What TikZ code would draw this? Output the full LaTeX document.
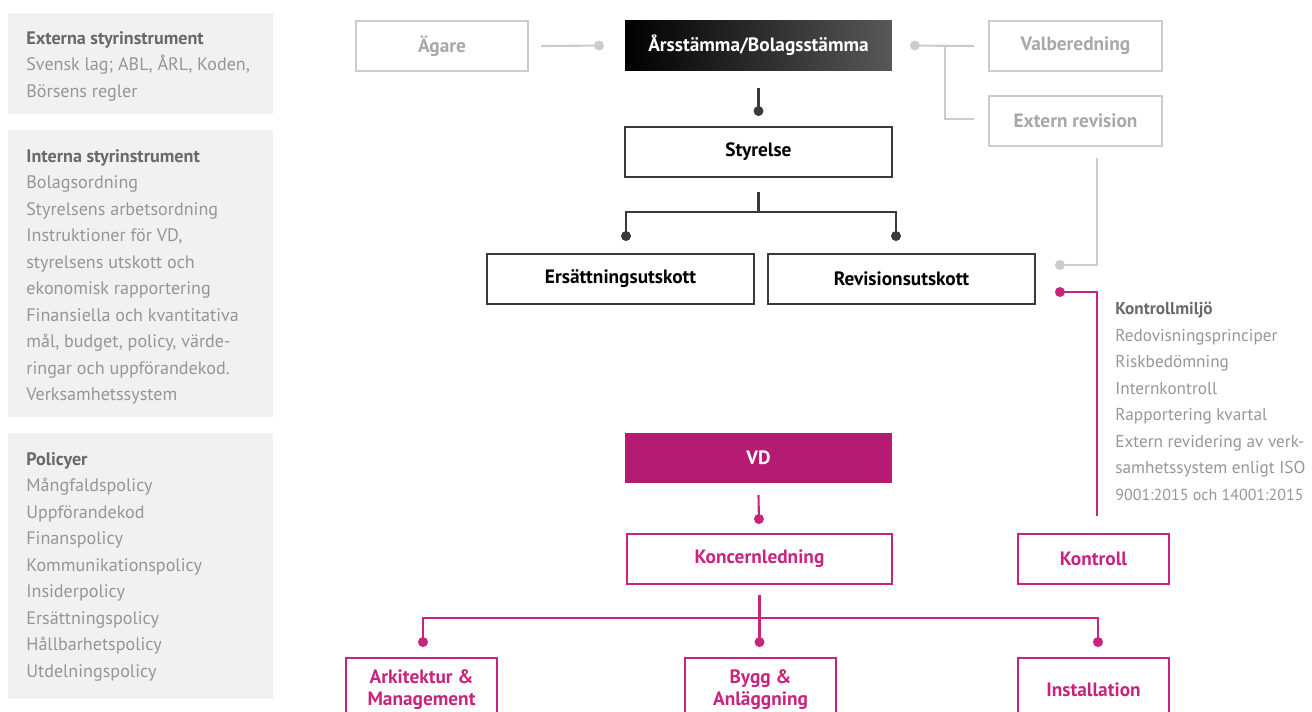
\documentclass[tikz,border=0pt]{standalone}
\usepackage{fontspec}
\setmainfont{PT Sans}
\usetikzlibrary{calc}
\usetikzlibrary{arrows.meta}

\definecolor{panelgray}{RGB}{241,241,241}
\definecolor{lightline}{RGB}{204,204,204}
\definecolor{lighttext}{RGB}{168,168,168}
\definecolor{darkline}{RGB}{58,58,58}
\definecolor{bodytext}{RGB}{150,150,150}
\definecolor{headtext}{RGB}{105,105,105}
\definecolor{magline}{RGB}{200,36,126}
\definecolor{vdfill}{RGB}{182,27,115}
\definecolor{topdark}{RGB}{88,88,88}

\tikzset{
	box/.style={draw, rectangle, line width=1.2pt, minimum height=1cm, inner sep=2pt, align=center, font=\fontsize{11}{12.5}\selectfont\bfseries},
	greybox/.style={box, draw=lightline, text=lighttext, minimum width=3.46cm},
	blackbox/.style={box, draw=darkline, text=black, minimum width=5.34cm},
	magbox/.style={box, draw=magline, text=magline},
	glink/.style={lightline, line width=1.2pt, -{Circle[length=5.6pt]}},
	dlink/.style={darkline, line width=1.2pt, -{Circle[length=5.6pt]}},
	mlink/.style={magline, line width=1.2pt, -{Circle[length=5.6pt]}},
	paneltext/.style={anchor=north west, inner sep=0pt, align=left, text=bodytext, font=\fontsize{10.3}{15.1}\selectfont}
}

\begin{document}
\begin{tikzpicture}[x=0.02cm, y=-0.02cm]
		\clip (0,0) rectangle (1312,711);

		% Left panels
		\fill[panelgray] (8,13) rectangle (273,114);
		\fill[panelgray] (8,130) rectangle (273,417);
		\fill[panelgray] (8,433) rectangle (273,699);

		\node[paneltext] (extern) at (26,31) {\textcolor{headtext}{\bfseries Externa styrinstrument}\\Svensk lag; ABL, ÅRL, Koden,\\Börsens regler};
		\node[paneltext] (intern) at (26,149) {\textcolor{headtext}{\bfseries Interna styrinstrument}\\Bolagsordning\\Styrelsens arbetsordning\\Instruktioner för VD,\\styrelsens utskott och\\ekonomisk rapportering\\Finansiella och kvantitativa\\mål, budget, policy, värde-\\ringar och uppförandekod.\\Verksamhetssystem};
		\node[paneltext] (policy) at (26,452) {\textcolor{headtext}{\bfseries Policyer}\\Mångfaldspolicy\\Uppförandekod\\Finanspolicy\\Kommunikationspolicy\\Insiderpolicy\\Ersättningspolicy\\Hållbarhetspolicy\\Utdelningspolicy};

		% Boxes
		\node[greybox, minimum width=3.44cm] (agare) at (442,46) {Ägare};
		\node[box, draw=none, left color=black, right color=topdark, text=white, minimum width=5.34cm] (arsst) at (758.5,45.5) {Årsstämma/Bolagsstämma};
		\node[greybox] (valb) at (1075.5,46) {Valberedning};
		\node[greybox] (extrev) at (1075.5,121) {Extern revision};
		\node[blackbox] (styr) at (758.5,152) {Styrelse};
		\node[blackbox] (ersut) at (620.5,279) {Ersättningsutskott};
		\node[blackbox] (revut) at (901.5,279) {Revisionsutskott};

		\node[paneltext, font=\fontsize{9.8}{15.1}\selectfont] (kmiljo) at (1115,302) {\textcolor{headtext}{\bfseries Kontrollmiljö}\\Redovisningsprinciper\\Riskbedömning\\Internkontroll\\Rapportering kvartal\\Extern revidering av verk-\\samhetssystem enligt ISO\\{\fontsize{9.1}{15.1}\selectfont 9001:2015 och 14001:2015}};

		\node[box, draw=none, fill=vdfill, text=white, minimum width=5.34cm] (vd) at (758.5,458) {VD};
		\node[magbox, minimum width=5.3cm] (koncern) at (759.5,559) {Koncernledning};
		\node[magbox, minimum width=3.02cm] (kontroll) at (1093.5,559) {Kontroll};

		\node[magbox, minimum width=3.02cm, minimum height=1.28cm] (arkitektur) at (421.5,690) {Arkitektur \&\\Management};
		\node[magbox, minimum width=3.02cm, minimum height=1.28cm] (bygg) at (760.5,690) {Bygg \&\\Anläggning};
		\node[magbox, minimum width=3.02cm, minimum height=1.28cm] (install) at (1093.5,690) {Installation};

		% Connections
		\draw[glink] ($(agare.east)+(12,0)$) -- ($(arsst.west)+(-20,0)$);
		\draw[glink] ($(valb.west)+(-14,0)$) -- ($(arsst.east)+(17,0)$);
		\draw[lightline, line width=1.2pt] ($(extrev.west)+(-14,-2)$) -| ($(arsst.east)+(52,0)$);
		\draw[glink] ($(extrev.south)+(21.5,11)$) |- ($(revut.east)+(19,-14)$);
		\draw[mlink] ($(kontroll.north)+(3.5,-17)$) |- ($(revut.east)+(19,13)$);

		\draw[dlink] ($(arsst.south)+(0,16)$) -- ($(styr.north)+(0,-10)$);
		\coordinate (sbranch) at ($(styr.south)+(0,34)$);
		\draw[darkline, line width=1.2pt] ($(styr.south)+(0,14)$) -- (sbranch);
		\draw[dlink] (sbranch) -| ($(ersut.north)+(5.5,-12)$);
		\draw[dlink] (sbranch) -| ($(revut.north)+(-5.5,-12)$);

		\draw[mlink] ($(vd.south)+(0,11)$) -- ($(koncern.north)+(-0.5,-9)$);
		\coordinate (kbranch) at ($(koncern.south)+(0,33)$);
		\draw[magline, line width=1.2pt] ($(koncern.south)+(0,10)$) -- (kbranch);
		\draw[mlink] (kbranch) -| ($(arkitektur.north)+(1.5,-10)$);
		\draw[mlink] (kbranch) -- ($(kbranch |- bygg.north)+(0,-10)$);
		\draw[mlink] (kbranch) -| ($(install.north)+(4.5,-10)$);

	\end{tikzpicture}
\end{document}
